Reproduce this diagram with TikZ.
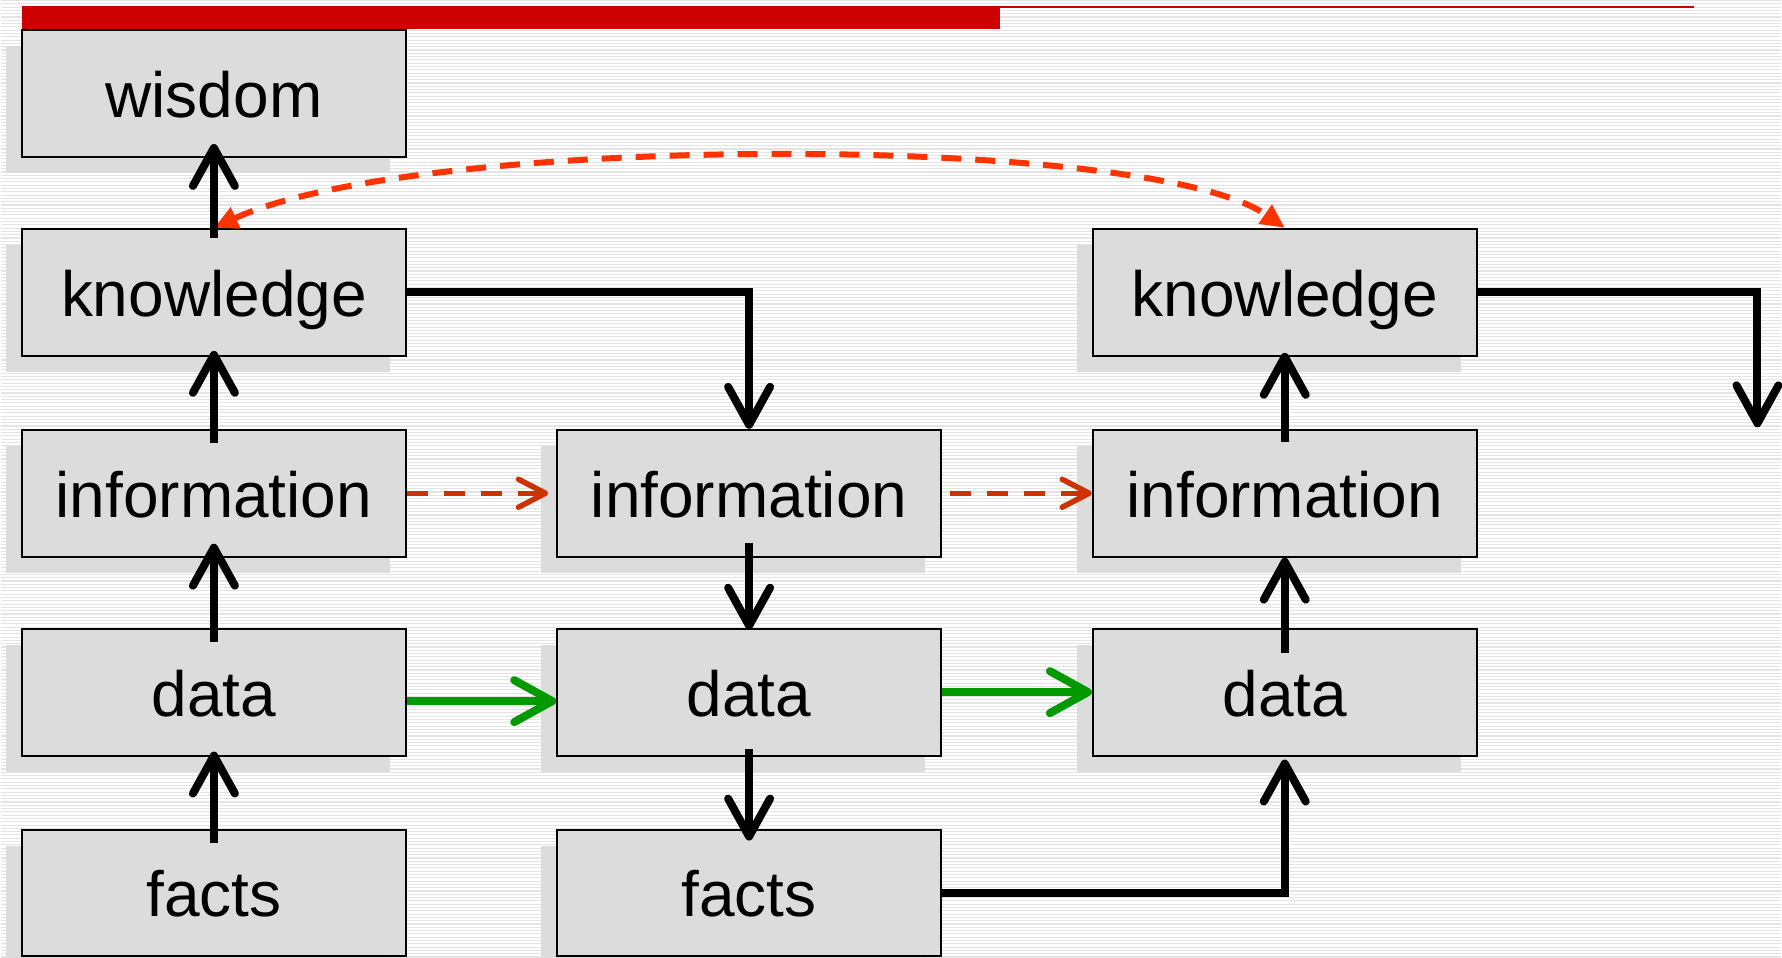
\documentclass[tikz,border=0pt]{standalone}
\usepackage{fontspec}
\setmainfont{Liberation Sans}
\usetikzlibrary{arrows.meta,shadows,calc}
\definecolor{boxgray}{HTML}{DCDCDC}
\definecolor{stripe}{HTML}{E4E4E4}
\definecolor{barred}{HTML}{CC0000}
\definecolor{dashred}{HTML}{CC3300}
\definecolor{curvered}{HTML}{FF3300}
\definecolor{arrgreen}{HTML}{009900}
\begin{document}
\begin{tikzpicture}[x=1pt,y=-1pt,
  box/.style={draw=black, line width=2pt, fill=boxgray, minimum width=384pt, minimum height=127pt,
    inner sep=0pt, font=\fontsize{64}{72}\selectfont, text height=48pt, text depth=0pt,
    drop shadow={shadow xshift=-16pt, shadow yshift=-16pt, fill=boxgray, opacity=1}},
  blk/.style={draw=black, line width=8pt, -{Straight Barb[length=38pt,width=42pt,round]}},
  grn/.style={draw=arrgreen, line width=8pt, -{Straight Barb[length=38pt,width=42pt,round]}},
  rdash/.style={draw=dashred, line width=5.5pt, dash pattern=on 21pt off 16pt, -{Straight Barb[length=27pt,width=28pt,round]}},
  rcurve/.style={draw=curvered, line width=6pt, dash pattern=on 20pt off 14pt,
    {Triangle[length=24pt,width=22pt]}-{Triangle[length=24pt,width=22pt]}},
]
\fill[white] (0,0) rectangle (1782,958);
\foreach \i in {0,...,290} \draw[stripe, line width=1.1pt] (0,\i*3.3) -- (1782,\i*3.3);
\useasboundingbox (0,0) rectangle (1782,958);
% top bar
\fill[barred] (21,5) rectangle (1000,28);
\draw[barred, line width=2pt] (21,6) -- (1694,6);
% boxes
\node[box] (w1) at (213.5,93) {wisdom};
\node[box] (k1) at (213.5,292) {knowledge};
\node[box] (i1) at (213.5,493) {information};
\node[box] (d1) at (213.5,692) {data};
\node[box] (f1) at (213.5,893) {facts};
\node[box] (i2) at (749,493) {information};
\node[box] (d2) at (749,692) {data};
\node[box] (f2) at (749,893) {facts};
\node[box] (k3) at (1285,292) {knowledge};
\node[box] (i3) at (1285,493) {information};
\node[box] (d3) at (1285,692) {data};
\coordinate (out) at (1758,427);
% curved dashed link
\draw[rcurve] (k1.north) .. controls +(206,-95) and +(-135,-95) .. (k3.north);
% black arrows
\draw[blk, shorten <=-14pt, shorten >=-5pt] (f1.north) -- (d1.south);
\draw[blk, shorten <=-14pt, shorten >=-14pt] (d1.north) -- (i1.south);
\draw[blk, shorten <=-14pt, shorten >=-6pt] (i1.north) -- (k1.south);
\draw[blk, shorten <=-10pt, shorten >=-14pt] (k1.north) -- (w1.south);
\draw[blk] (k1.east) -| (i2.north);
\draw[blk, shorten <=-15pt, shorten >=-2pt] (i2.south) -- (d2.north);
\draw[blk, shorten <=-8pt, shorten >=-12pt] (d2.south) -- (f2.north);
\draw[blk, shorten >=3pt] (f2.east) -| (d3.south);
\draw[blk, shorten <=-25pt] (d3.north) -- (i3.south);
\draw[blk, shorten <=-13pt, shorten >=-4pt] (i3.north) -- (k3.south);
\draw[blk] (k3.east) -| (out);
% green arrows
\draw[grn] ($(d1.east)+(0,9)$) -- ($(d2.west)+(0,9)$);
\draw[grn] (d2.east) -- (d3.west);
% red dashed arrows
\draw[rdash, shorten >=8pt] (i1.east) -- (i2.west);
\draw[rdash, shorten <=8pt] (i2.east) -- (i3.west);
\end{tikzpicture}
\end{document}
